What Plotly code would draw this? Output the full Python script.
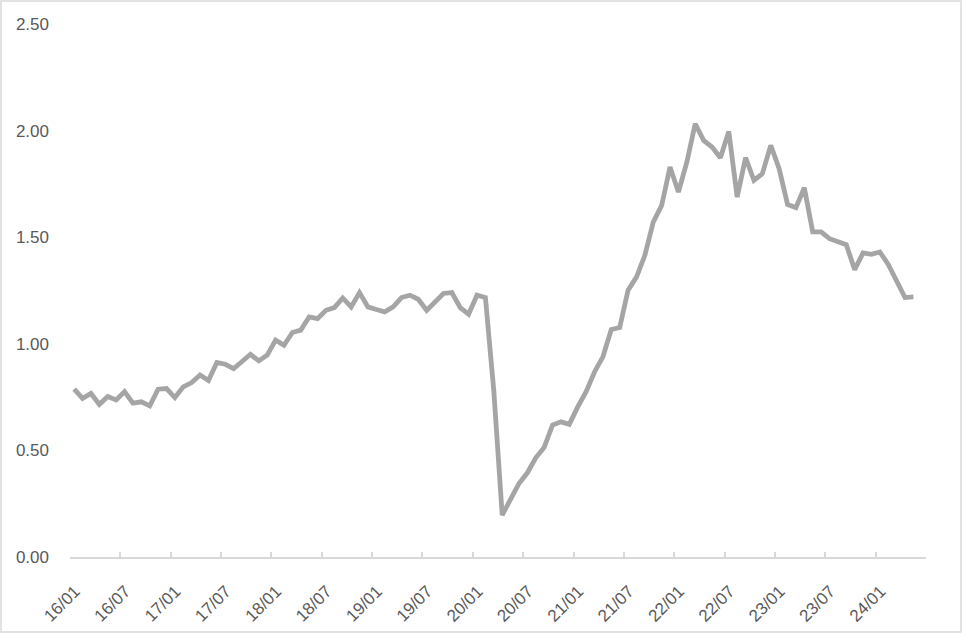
import plotly.graph_objects as go

# Monthly series, Jan 2016 .. May 2024
months = [f"{y}-{m:02d}" for y in range(2016, 2025) for m in range(1, 13)][:101]
values = [
    0.787, 0.744, 0.767, 0.716, 0.753, 0.737, 0.776, 0.722, 0.728, 0.709, 0.787, 0.790,   # 2016
    0.748, 0.798, 0.818, 0.854, 0.828, 0.912, 0.904, 0.884, 0.917, 0.951, 0.920, 0.947,   # 2017
    1.017, 0.993, 1.053, 1.064, 1.126, 1.118, 1.157, 1.170, 1.215, 1.173, 1.240, 1.173,   # 2018
    1.161, 1.150, 1.173, 1.217, 1.228, 1.209, 1.157, 1.196, 1.236, 1.240, 1.170, 1.139,   # 2019
    1.228, 1.217, 0.780, 0.197, 0.267, 0.345, 0.395, 0.465, 0.514, 0.619, 0.634, 0.622,   # 2020
    0.704, 0.775, 0.868, 0.939, 1.067, 1.076, 1.251, 1.313, 1.415, 1.571, 1.649, 1.829,   # 2021
    1.712, 1.852, 2.032, 1.954, 1.923, 1.873, 1.996, 1.688, 1.873, 1.767, 1.798, 1.931,   # 2022
    1.821, 1.654, 1.639, 1.732, 1.525, 1.525, 1.493, 1.478, 1.465, 1.348, 1.426, 1.420,   # 2023
    1.431, 1.372, 1.300, 1.217, 1.220,                                                    # 2024
]
tick_labels = ["16/01", "16/07", "17/01", "17/07", "18/01", "18/07", "19/01", "19/07",
               "20/01", "20/07", "21/01", "21/07", "22/01", "22/07", "23/01", "23/07",
               "24/01", ""]
y_ticks = [0.0, 0.5, 1.0, 1.5, 2.0, 2.5]

n_slots = 102  # category slots on the axis (one trailing empty month)
x_pos = [i + 0.5 for i in range(len(values))]
tick_pos = [i * 6 for i in range(len(tick_labels))]

fig = go.Figure()
fig.add_trace(go.Scatter(
    x=x_pos, y=values, mode="lines",
    line=dict(color="#a5a5a5", width=4.8),
    customdata=months, hovertemplate="%{customdata}: %{y:.2f}<extra></extra>",
    showlegend=False,
))

W, H = 962, 633
ml, mr, mt, mb = 70, 36, 24, 76
pw, ph = W - ml - mr, H - mt - mb

fig.update_layout(
    width=W, height=H,
    margin=dict(l=ml, r=mr, t=mt, b=mb, pad=0, autoexpand=False),
    paper_bgcolor="white", plot_bgcolor="white",
    font=dict(family="Liberation Sans, Arial, sans-serif", size=17, color="#595959"),
    xaxis=dict(
        range=[0, n_slots], tickmode="array", tickvals=tick_pos, ticktext=tick_labels,
        tickangle=-45, ticks="inside", ticklen=5, tickcolor="#d9d9d9", tickwidth=1.5,
        showline=True, linecolor="#d9d9d9", linewidth=1.5, automargin=False,
        ticklabelstandoff=16, ticklabelshift=5,
        showgrid=False, zeroline=False, fixedrange=True,
    ),
    yaxis=dict(
        range=[0, 2.5], tickmode="array", tickvals=y_ticks, automargin=False,
        tickformat=".2f", ticks="", showline=False, showgrid=False, zeroline=False,
        ticklabelstandoff=20, fixedrange=True,
    ),
    shapes=[dict(
        type="rect", xref="paper", yref="paper",
        x0=(1 - ml) / pw, x1=(W - 1 - ml) / pw,
        y0=-(H - 1 - (H - mb)) / ph, y1=(H - mb - 1) / ph,
        line=dict(color="#d9d9d9", width=1.5), fillcolor="rgba(0,0,0,0)", layer="below",
    )],
)

fig.write_html(
    "out.html",
    config={"displayModeBar": False},
    post_script="document.body.style.margin='0';document.body.style.overflow='hidden';",
)
